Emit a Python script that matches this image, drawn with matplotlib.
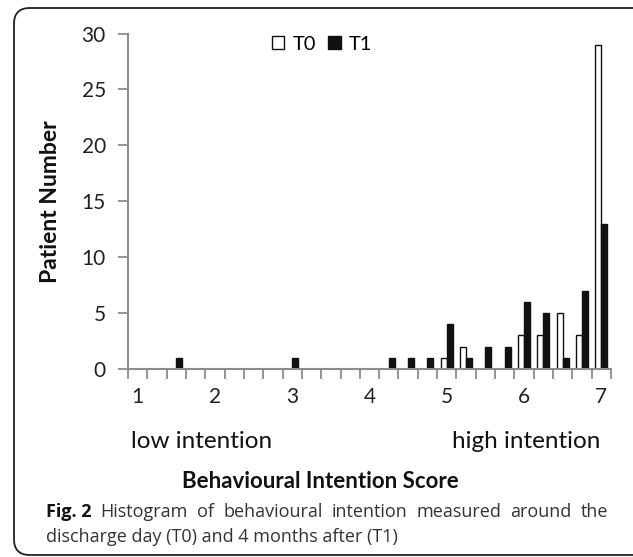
import matplotlib
matplotlib.use("Agg")
import matplotlib.pyplot as plt
from matplotlib.patches import FancyBboxPatch
import numpy as np

scores = [1 + 0.25 * i for i in range(25)]
t0 = [0, 0, 0, 0, 0, 0, 0, 0, 0, 0, 0, 0, 0, 0, 0, 0, 1, 2, 0, 0, 3, 3, 5, 3, 29]
t1 = [0, 0, 1, 0, 0, 0, 0, 0, 1, 0, 0, 0, 0, 1, 1, 1, 4, 1, 2, 2, 6, 5, 1, 7, 13]
xtick_labels = ["1", "2", "3", "4", "5", "6", "7"]
yticks = [0, 5, 10, 15, 20, 25, 30]

W, H = 633, 557
fig = plt.figure(figsize=(W / 100, H / 100), dpi=100)
FONT = "Lato"
TICK_FS = 15

ax = fig.add_axes([128 / W, 1 - 369 / H, (611 - 128) / W, (369 - 33.5) / H])
x = np.arange(len(scores))
bw = 0.31
ax.bar(x - bw / 2, t0, width=bw, color="white", edgecolor="#111111", linewidth=1.0, label="T0")
ax.bar(x + bw / 2, t1, width=bw, color="#111111", edgecolor="#111111", linewidth=1.0, label="T1")

ax.set_xlim(-0.5, len(scores) - 0.5)
ax.set_ylim(0, 30)
for s in ["top", "right"]:
    ax.spines[s].set_visible(False)
for s in ["left", "bottom"]:
    ax.spines[s].set_color("#8c8c8c")
    ax.spines[s].set_linewidth(1.5)

ax.set_yticks(yticks)
ax.set_yticklabels([str(v) for v in yticks], fontfamily=FONT, fontsize=TICK_FS, color="#222222")
ax.tick_params(axis="y", direction="out", length=7, width=1.3, color="#8c8c8c", pad=9)

ax.set_xticks(np.arange(-0.5, len(scores), 1.0))
ax.set_xticklabels([])
ax.tick_params(axis="x", which="major", direction="out", length=7, width=1.3, color="#8c8c8c")
label_pos = [scores.index(float(v)) for v in xtick_labels]
ax.set_xticks(label_pos, minor=True)
ax.set_xticklabels(xtick_labels, minor=True, fontfamily=FONT, fontsize=TICK_FS, color="#222222")
ax.tick_params(axis="x", which="minor", length=0, pad=13)

ax.set_ylabel("Patient Number", fontfamily=FONT, fontsize=16.5, fontweight="bold", labelpad=15, color="#111111")

leg = fig.legend(*ax.get_legend_handles_labels(), loc="center",
                 bbox_to_anchor=(322 / W, 1 - 44 / H), ncol=2, frameon=False,
                 prop={"family": FONT, "size": 14.5}, handlelength=0.62, handleheight=0.62,
                 handletextpad=0.4, columnspacing=0.6, borderpad=0, borderaxespad=0)

fig.text(202 / W, 1 - 448 / H, "low intention", ha="center", va="baseline",
         fontfamily=FONT, fontsize=17.5, color="#111111")
fig.text(526 / W, 1 - 448 / H, "high intention", ha="center", va="baseline",
         fontfamily=FONT, fontsize=17.5, color="#111111")
fig.text(320 / W, 1 - 481 / H, "Behavioural Intention Score", ha="center", va="center",
         fontfamily=FONT, fontsize=16, fontweight="bold", color="#111111")

cap_font = "Open Sans"
CAP_FS = 13
renderer = fig.canvas.get_renderer()
line1 = [("Fig. 2", "bold"), ("Histogram", "normal"), ("of", "normal"),
         ("behavioural", "normal"), ("intention", "normal"), ("measured", "normal"),
         ("around", "normal"), ("the", "normal")]
x0, x1 = 46, 608
y1 = 1 - 512 / H
objs = []
total = 0
for w, wt in line1:
    t = fig.text(0, y1, w, ha="left", va="center", fontfamily=cap_font, fontsize=CAP_FS,
                 fontweight=wt, color="#111111" if wt == "bold" else "#333333")
    wd = t.get_window_extent(renderer).width
    objs.append((t, wd))
    total += wd
gap = (x1 - x0 - total) / (len(objs) - 1)
cx = x0
for t, wd in objs:
    t.set_x(cx / W)
    cx += wd + gap

fig.text(46 / W, 1 - 537 / H, "discharge day (T0) and 4 months after (T1)",
         ha="left", va="center", fontfamily=cap_font, fontsize=CAP_FS, color="#333333")

border = FancyBboxPatch((14 / W, 1 - 555 / H), (W + 20) / W, (555 - 8) / H,
                        boxstyle="round,pad=0,rounding_size=0.025",
                        transform=fig.transFigure, fill=False, edgecolor="#222222",
                        linewidth=1.3, mutation_aspect=W / H)
fig.patches.append(border)

fig.savefig("out.png", dpi=100)
